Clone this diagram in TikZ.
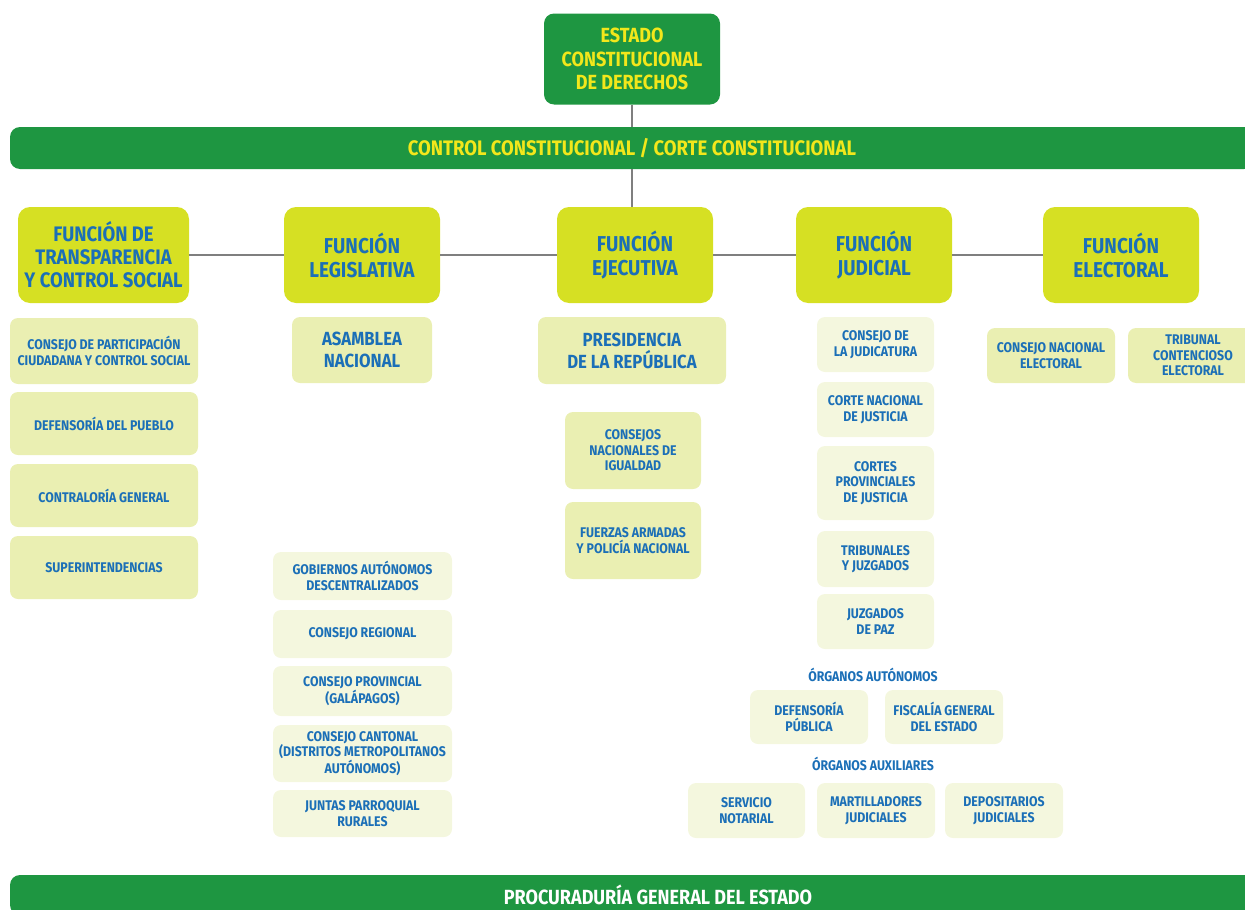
\documentclass[tikz,border=0pt]{standalone}
\usepackage{fontspec}
\setmainfont{Fira Sans}[FakeStretch = 0.88]
\usepackage{xcolor}
\usetikzlibrary{positioning}
\newcommand{\BarWidth}{1244pt}

\definecolor{verdeEstado}{HTML}{1E9641}
\definecolor{amarilloTexto}{HTML}{F2E71B}
\definecolor{limaFuncion}{HTML}{D6E023}
\definecolor{azulTexto}{HTML}{1B6FB7}
\definecolor{cremaOscura}{HTML}{EAEFB2}
\definecolor{cremaClara}{HTML}{F4F7DE}
\definecolor{grisLinea}{HTML}{7F7F7F}

\tikzset{
    caja/.style = {rounded corners = 8pt, inner sep = 0pt, align = center, font = \bfseries},
    estadobox/.style = {caja, rounded corners = 10pt, fill = verdeEstado, text = amarilloTexto,
        font = \bfseries\fontsize{20.5}{23.5}\selectfont},
    barra/.style = {caja, rounded corners = 10pt, fill = verdeEstado, minimum width = \BarWidth},
    funcion/.style = {caja, rounded corners = 12pt, fill = limaFuncion, text = azulTexto,
        minimum height = 96pt, font = \bfseries\fontsize{21.5}{24}\selectfont},
    cajamedia/.style = {caja, fill = cremaOscura, text = azulTexto,
        font = \bfseries\fontsize{19}{22}\selectfont},
    cajaoscura/.style = {caja, fill = cremaOscura, text = azulTexto,
        font = \bfseries\fontsize{14}{15.5}\selectfont},
    cajaclara/.style = {caja, fill = cremaClara, text = azulTexto,
        font = \bfseries\fontsize{14}{15.5}\selectfont},
    rotulo/.style = {text = azulTexto, inner sep = 0pt, font = \bfseries\fontsize{14}{15.5}\selectfont},
    conector/.style = {draw = grisLinea, line width = 2.2pt}
}

\begin{document}
\begin{tikzpicture}[x = 1pt, y = -1pt]
    \clip (0, 0) rectangle (1245, 910);

    % draw top of the chart
    \node[estadobox, minimum width = 176pt, minimum height = 91pt] (estado) at (632, 59)
        {ESTADO\\CONSTITUCIONAL\\DE DERECHOS};
    \node[barra, minimum height = 42pt, text = amarilloTexto,
        font = \bfseries\fontsize{21}{24}\selectfont] (control) at (632, 148)
        {CONTROL CONSTITUCIONAL / CORTE CONSTITUCIONAL};


    % draw the five functions
    \node[funcion, minimum width = 171pt, font = \bfseries\fontsize{21}{23}\selectfont] (trans) at (103.5, 255)
        {FUNCIÓN DE\\TRANSPARENCIA\\Y CONTROL SOCIAL};
    \node[funcion, minimum width = 156pt] (leg) at (362, 255) {FUNCIÓN\\LEGISLATIVA};
    \node[funcion, minimum width = 156pt] (eje) at (635, 255) {FUNCIÓN\\EJECUTIVA};
    \node[funcion, minimum width = 156pt] (jud) at (874, 255) {FUNCIÓN\\JUDICIAL};
    \node[funcion, minimum width = 156pt] (ele) at (1121, 255) {FUNCIÓN\\ELECTORAL};


    % draw connectors
    \draw[conector] (estado.south) -- (estado.south |- control.north);
    \draw[conector] (control.south -| estado.south) -- (eje.north -| estado.south);
    \foreach \a/\b in {trans/leg, leg/eje, eje/jud, jud/ele}
        \draw[conector] (\a.east) -- (\b.west);


    % draw Transparencia column
    \node[cajaoscura, minimum width = 188pt, minimum height = 66pt] (cpccs) at (104, 351)
        {CONSEJO DE PARTICIPACIÓN\\CIUDADANA Y CONTROL SOCIAL};
    \node[cajaoscura, minimum width = 188pt, minimum height = 63pt] (defpueblo) at (104, 423.5)
        {DEFENSORÍA DEL PUEBLO};
    \node[cajaoscura, minimum width = 188pt, minimum height = 63pt] (contraloria) at (104, 495.5)
        {CONTRALORÍA GENERAL};
    \node[cajaoscura, minimum width = 188pt, minimum height = 63pt] (superint) at (104, 567.5)
        {SUPERINTENDENCIAS};


    % draw Legislativa column
    \node[cajamedia, minimum width = 140pt, minimum height = 66pt] (asamblea) at (362, 350)
        {ASAMBLEA\\NACIONAL};

    \node[cajaclara, minimum width = 179pt, minimum height = 48pt] (gad) at (362.5, 576)
        {GOBIERNOS AUTÓNOMOS\\DESCENTRALIZADOS};
    \node[cajaclara, minimum width = 179pt, minimum height = 48pt] (regional) at (362.5, 634)
        {CONSEJO REGIONAL};
    \node[cajaclara, minimum width = 179pt, minimum height = 50pt] (provincial) at (362.5, 691)
        {CONSEJO PROVINCIAL\\(GALÁPAGOS)};
    \node[cajaclara, minimum width = 179pt, minimum height = 57pt] (cantonal) at (362.5, 753.5)
        {CONSEJO CANTONAL\\(DISTRITOS METROPOLITANOS\\AUTÓNOMOS)};
    \node[cajaclara, minimum width = 179pt, minimum height = 47pt] (juntas) at (362.5, 813.5)
        {JUNTAS PARROQUIAL\\RURALES};


    % draw Ejecutiva column
    \node[cajamedia, minimum width = 188pt, minimum height = 67pt] (presidencia) at (632, 350.5)
        {PRESIDENCIA\\DE LA REPÚBLICA};
    \node[cajaoscura, minimum width = 136pt, minimum height = 77pt] (igualdad) at (633, 450.5)
        {CONSEJOS\\NACIONALES DE\\IGUALDAD};
    \node[cajaoscura, minimum width = 136pt, minimum height = 77pt] (fuerzas) at (633, 540.5)
        {FUERZAS ARMADAS\\Y POLICÍA NACIONAL};


    % draw Judicial column
    \node[cajaclara, minimum width = 117pt, minimum height = 55pt] (judicatura) at (875.5, 344.5)
        {CONSEJO DE\\LA JUDICATURA};
    \node[cajaclara, minimum width = 117pt, minimum height = 55pt] (cnj) at (875.5, 409.5)
        {CORTE NACIONAL\\DE JUSTICIA};
    \node[cajaclara, minimum width = 117pt, minimum height = 74pt] (cortesprov) at (875.5, 483)
        {CORTES\\PROVINCIALES\\DE JUSTICIA};
    \node[cajaclara, minimum width = 117pt, minimum height = 56pt] (tribunales) at (875.5, 559)
        {TRIBUNALES\\Y JUZGADOS};
    \node[cajaclara, minimum width = 117pt, minimum height = 55pt] (paz) at (875.5, 621.5)
        {JUZGADOS\\DE PAZ};

    \node[rotulo] (autonomos) at (873, 675) {ÓRGANOS AUTÓNOMOS};
    \node[cajaclara, minimum width = 118pt, minimum height = 54pt] (defpublica) at (809, 717)
        {DEFENSORÍA\\PÚBLICA};
    \node[cajaclara, minimum width = 118pt, minimum height = 54pt] (fiscalia) at (944, 717)
        {FISCALÍA GENERAL\\DEL ESTADO};

    \node[rotulo] (auxiliares) at (873, 764) {ÓRGANOS AUXILIARES};
    \node[cajaclara, minimum width = 117pt, minimum height = 55pt] (notarial) at (746.5, 810.5)
        {SERVICIO\\NOTARIAL};
    \node[cajaclara, minimum width = 118pt, minimum height = 55pt] (martilladores) at (876, 810.5)
        {MARTILLADORES\\JUDICIALES};
    \node[cajaclara, minimum width = 118pt, minimum height = 55pt] (depositarios) at (1004, 810.5)
        {DEPOSITARIOS\\JUDICIALES};


    % draw Electoral column
    \node[cajaoscura, minimum width = 128pt, minimum height = 55pt] (cne) at (1051, 355.5)
        {CONSEJO NACIONAL\\ELECTORAL};
    \node[cajaoscura, minimum width = 130pt, minimum height = 55pt] (tce) at (1193, 355.5)
        {TRIBUNAL\\CONTENCIOSO\\ELECTORAL};


    % draw bottom bar
    \node[barra, minimum width = 1296pt, minimum height = 40pt, text = white,
        font = \bfseries\fontsize{20.5}{24}\selectfont] (procuraduria) at (658, 895)
        {PROCURADURÍA GENERAL DEL ESTADO};
\end{tikzpicture}
\end{document}
